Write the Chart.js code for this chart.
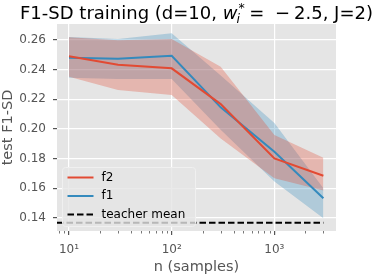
<!DOCTYPE html>
<html>
<head>
<meta charset="utf-8">
<script src="https://cdn.jsdelivr.net/npm/chart.js@4.4.1/dist/chart.umd.min.js"></script>
<style>
  html, body { margin: 0; padding: 0; background: #fff; }
  #wrap { width: 374px; height: 275px; }
</style>
</head>
<body>
<div id="wrap"><canvas id="chart" width="374" height="275"></canvas></div>
<script>
// datos
const sampleSizes = [10, 30, 100, 300, 1000, 3000];
const f2Mean  = [0.2490, 0.2433, 0.2409, 0.2168, 0.1802, 0.1685];
const f2Lower = [0.2353, 0.2263, 0.2230, 0.1935, 0.1667, 0.1585];
const f2Upper = [0.2618, 0.2598, 0.2607, 0.2420, 0.1960, 0.1806];
const f1Mean  = [0.2481, 0.2474, 0.2494, 0.2146, 0.1847, 0.1533];
const f1Lower = [0.2345, 0.2337, 0.2337, 0.1995, 0.1645, 0.1398];
const f1Upper = [0.2620, 0.2607, 0.2645, 0.2360, 0.2040, 0.1600];
const teacherX = [7.64, 3000];
const teacherMean = 0.1367;

const yTicks = [0.14, 0.16, 0.18, 0.20, 0.22, 0.24, 0.26];
const xTicks = [8, 9, 10, 20, 30, 40, 50, 60, 70, 80, 90, 100, 200, 300, 400, 500, 600, 700, 800, 900, 1000, 2000, 3000];
const xMajorLabels = { 10: '10¹', 100: '10²', 1000: '10³' };

const legendItems = [
    { label: 'f2', color: '#E24A33', dash: [] },
    { label: 'f1', color: '#348ABD', dash: [] },
    { label: 'teacher mean', color: '#000000', dash: [6.5, 3] }
];

const redColor = '#E24A33';
const blueColor = '#348ABD';
const redFade = 'rgba(226, 74, 51, 0.3)';
const blueFade = 'rgba(52, 138, 189, 0.3)';
const tickGray = '#555555';

const pts = (xs, ys) => xs.map((x, i) => ({ x: x, y: ys[i] }));
const isMajor = v => xMajorLabels[v] !== undefined;

Chart.defaults.font.family = "'DejaVu Sans', sans-serif";

// fondo gris estilo ggplot
const backgroundPlugin = {
    id: 'bg',
    beforeDraw(chart) {
        const { ctx, chartArea } = chart;
        ctx.save();
        ctx.fillStyle = '#ffffff';
        ctx.fillRect(0, 0, chart.width, chart.height);
        ctx.fillStyle = '#E5E5E5';
        ctx.fillRect(chartArea.left, chartArea.top, chartArea.right - chartArea.left, chartArea.bottom - chartArea.top);
        ctx.restore();
    }
};

// marcas menores del eje x
const minorTicksPlugin = {
    id: 'minorTicks',
    afterDraw(chart) {
        const { ctx, chartArea } = chart;
        const xs = chart.scales.x;
        ctx.save();
        ctx.strokeStyle = tickGray;
        ctx.lineWidth = 0.8;
        xTicks.filter(v => !isMajor(v)).forEach(v => {
            const px = Math.round(xs.getPixelForValue(v)) + 0.5;
            ctx.beginPath();
            ctx.moveTo(px, chartArea.bottom);
            ctx.lineTo(px, chartArea.bottom + 2.5);
            ctx.stroke();
        });
        ctx.restore();
    }
};

// titulo con w_i^* en cursiva (espaciado tipo mathtext)
const titlePlugin = {
    id: 'mathTitle',
    afterDraw(chart) {
        const { ctx, chartArea } = chart;
        const size = 18;
        const big = size + "px 'DejaVu Sans'";
        const ital = 'italic ' + size + "px 'DejaVu Sans'";
        const small = "12.5px 'DejaVu Sans'";
        const smallIt = "italic 12.5px 'DejaVu Sans'";
        const baseY = 18.5;
        const pieces = [
            { t: 'F1-SD training (d=10, ', f: big },
            { t: 'w', f: ital },
            { sub: 'i', sup: '*' },
            { gap: 0.25 * size },
            { t: '=', f: big },
            { gap: 0.6 * size },
            { t: '−', f: big },
            { gap: 0.22 * size },
            { t: '2.5, J=2)', f: big }
        ];
        ctx.save();
        let total = 0;
        pieces.forEach(p => {
            if (p.gap !== undefined) {
                p.w = p.gap;
            } else if (p.sub) {
                ctx.font = smallIt; const a = ctx.measureText(p.sub).width;
                ctx.font = small; const b = ctx.measureText(p.sup).width;
                p.w = Math.max(a, b + 1);
            } else {
                ctx.font = p.f; p.w = ctx.measureText(p.t).width;
            }
            total += p.w;
        });
        let x = (chartArea.left + chartArea.right) / 2 - total / 2;
        ctx.fillStyle = '#000';
        ctx.textBaseline = 'alphabetic';
        ctx.textAlign = 'left';
        pieces.forEach(p => {
            if (p.sub) {
                ctx.font = smallIt; ctx.fillText(p.sub, x - 1, baseY + 4);
                ctx.font = small; ctx.fillText(p.sup, x + 1, baseY - 7);
            } else if (p.t) {
                ctx.font = p.f; ctx.fillText(p.t, x, baseY);
            }
            x += p.w;
        });
        ctx.restore();
    }
};

// leyenda semitransparente
const legendPlugin = {
    id: 'boxLegend',
    afterDatasetsDraw(chart) {
        const { ctx, chartArea } = chart;
        const bx = chartArea.left + 5.5, by = chartArea.top + 143.5, bw = 133, bh = 59;
        ctx.save();
        ctx.beginPath();
        ctx.roundRect(bx, by, bw, bh, 3);
        ctx.fillStyle = 'rgba(229, 229, 229, 0.8)';
        ctx.fill();
        ctx.strokeStyle = '#f0f0f0';
        ctx.lineWidth = 1;
        ctx.stroke();
        ctx.font = "12px 'DejaVu Sans'";
        ctx.textBaseline = 'middle';
        ctx.fillStyle = '#000';
        legendItems.forEach((item, i) => {
            const y = by + 10 + i * 18.5;
            ctx.beginPath();
            ctx.setLineDash(item.dash);
            ctx.strokeStyle = item.color;
            ctx.lineWidth = 2;
            ctx.moveTo(bx + 5, y);
            ctx.lineTo(bx + 31, y);
            ctx.stroke();
            ctx.setLineDash([]);
            ctx.fillText(item.label, bx + 39, y);
        });
        ctx.restore();
    }
};

new Chart(document.getElementById('chart'), {
    type: 'line',
    data: {
        datasets: [
            { data: pts(sampleSizes, f2Lower), borderWidth: 0, pointRadius: 0, fill: false },
            { data: pts(sampleSizes, f2Upper), borderWidth: 0, pointRadius: 0, fill: '-1', backgroundColor: redFade },
            { data: pts(sampleSizes, f1Lower), borderWidth: 0, pointRadius: 0, fill: false },
            { data: pts(sampleSizes, f1Upper), borderWidth: 0, pointRadius: 0, fill: '-1', backgroundColor: blueFade },
            {
                label: 'teacher mean',
                data: teacherX.map(x => ({ x: x, y: teacherMean })),
                borderColor: '#000', borderWidth: 2, borderDash: [6.5, 3], pointRadius: 0, fill: false
            },
            { label: 'f2', data: pts(sampleSizes, f2Mean), borderColor: redColor, borderWidth: 2, pointRadius: 0, fill: false },
            { label: 'f1', data: pts(sampleSizes, f1Mean), borderColor: blueColor, borderWidth: 2, pointRadius: 0, fill: false }
        ]
    },
    options: {
        responsive: false,
        animation: false,
        layout: { padding: { left: 0, right: 38, top: 24, bottom: 0 } },
        plugins: {
            legend: { display: false },
            tooltip: { enabled: false },
            filler: { drawTime: 'beforeDatasetsDraw' }
        },
        scales: {
            x: {
                type: 'logarithmic',
                min: 7.64,
                max: 3981,
                afterBuildTicks: s => { s.ticks = xTicks.map(v => ({ value: v })); },
                afterFit: s => { s.height = 44; },
                border: { display: false },
                grid: {
                    color: c => (c.tick && isMajor(c.tick.value)) ? '#ffffff' : 'rgba(0,0,0,0)',
                    tickColor: c => (c.tick && isMajor(c.tick.value)) ? tickGray : 'rgba(0,0,0,0)',
                    lineWidth: 1.2,
                    tickLength: 4
                },
                ticks: {
                    autoSkip: false,
                    maxRotation: 0,
                    padding: 8,
                    color: tickGray,
                    font: { size: 12 },
                    callback: v => xMajorLabels[v] || ''
                },
                title: {
                    display: true, text: 'n (samples)', color: tickGray,
                    font: { size: 14.5, lineHeight: 1.1 }, padding: { top: 0, bottom: 0 }
                }
            },
            y: {
                min: 0.1312,
                max: 0.2708,
                afterBuildTicks: s => { s.ticks = yTicks.map(v => ({ value: v })); },
                afterFit: s => { s.width = 57; },
                border: { display: false },
                grid: { color: '#ffffff', tickColor: tickGray, lineWidth: 1.2, tickLength: 4 },
                ticks: { color: tickGray, font: { size: 12 }, padding: 7, callback: v => v.toFixed(2) },
                title: {
                    display: true, text: 'test F1-SD', color: tickGray,
                    font: { size: 14.5, lineHeight: 1.1 }, padding: { top: 0, bottom: 0 }
                }
            }
        }
    },
    plugins: [backgroundPlugin, minorTicksPlugin, titlePlugin, legendPlugin]
});
</script>
</body>
</html>
